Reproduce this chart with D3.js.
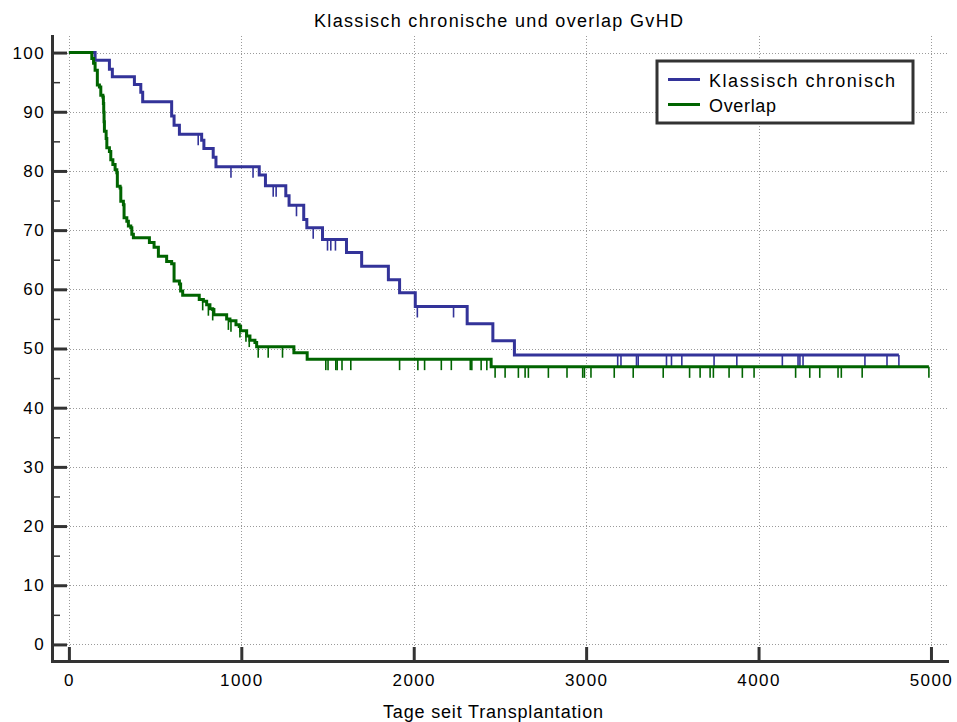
<!DOCTYPE html>
<html>
<head>
<meta charset="utf-8">
<script src="https://cdn.jsdelivr.net/npm/d3@7"></script>
<style>
  body { margin: 0; background: #fff; }
  svg text { font-family: "Liberation Sans", Arial, sans-serif; fill: #000; }
</style>
</head>
<body>
<div class="chart"></div>
<script>
// Klassisch chronisch: step times (days) and survival (%)
const blueTimes = [0, 152, 235, 252, 380, 417, 428, 596, 610, 641, 770, 783, 837, 853,
  1104, 1140, 1258, 1277, 1362, 1380, 1471, 1610, 1698, 1853, 1918, 2009, 2310, 2459, 2584];
const blueSurv = [100, 98.7, 97.2, 95.9, 94.6, 93.3, 91.7, 89.3, 87.7, 86.2, 85.2, 83.8, 82.3, 80.7,
  79.3, 77.5, 75.8, 74.2, 71.8, 70.4, 68.4, 66.2, 63.9, 61.6, 59.4, 57.1, 54.2, 51.3, 48.9];
const blueCensor = [750, 940, 1068, 1185, 1202, 1320, 1417, 1500, 1519, 1546, 2021, 2231,
  3183, 3202, 3292, 3302, 3466, 3495, 3555, 3742, 3874, 4138, 4229, 4240, 4258, 4617, 4745, 4814];
const blueEnd = 4814;

// Overlap
const greenTimes = [0, 133, 143, 152, 165, 177, 185, 197, 200, 202, 204, 206, 216, 220, 235, 243,
  255, 268, 278, 281, 297, 301, 316, 320, 336, 345, 359, 365, 374, 467, 494, 519, 567, 596, 610,
  641, 648, 660, 756, 780, 799, 818, 834, 841, 915, 934, 969, 988, 996, 1031, 1050, 1079, 1089,
  1305, 1382, 2449];
const greenSurv = [100, 99.0, 98.2, 97.0, 94.5, 94.2, 92.8, 92.5, 91.4, 89.9, 88.3, 86.7, 85.5, 83.9, 83.3, 81.9,
  81.1, 80.2, 79.7, 77.4, 77.1, 74.9, 74.3, 72.1, 71.5, 70.7, 70.4, 69.3, 68.7, 67.9, 67.1, 65.6, 64.7, 64.3, 61.4,
  60.9, 59.7, 59.0, 58.3, 58.0, 57.4, 56.7, 56.6, 55.7, 55.0, 54.7, 54.0, 53.7, 53.0, 52.1, 51.4, 51.0, 50.3,
  49.3, 48.2, 46.9];
const greenCensor = [776, 809, 834, 925, 940, 992, 1027, 1046, 1098, 1156, 1239, 1490, 1503, 1548,
  1556, 1584, 1635, 1918, 2024, 2063, 2160, 2218, 2328, 2337, 2391, 2424, 2472, 2530, 2607, 2646,
  2665, 2781, 2889, 2980, 2990, 3028, 3163, 3273, 3447, 3600, 3661, 3719, 3738, 3829, 3906, 3974,
  4215, 4297, 4355, 4461, 4480, 4601, 4988];
const greenEnd = 4988;

const xTicks = [0, 1000, 2000, 3000, 4000, 5000];
const yTicks = [0, 10, 20, 30, 40, 50, 60, 70, 80, 90, 100];
const yMinor = [5, 15, 25, 35, 45, 55, 65, 75, 85, 95];
const seriesNames = ['Klassisch chronisch', 'Overlap'];

const w = 957;
const h = 722;
const blue = '#333399';
const green = '#006400';

const svg = d3.select('.chart')
  .append('svg')
  .attr('width', w)
  .attr('height', h);

const x = d3.scaleLinear().domain([-98, 5093]).range([52, 947]);
const y = d3.scaleLinear().domain([-2.8, 102.8]).range([661, 36]);

// grid
const grid = svg.append('g').attr('stroke', '#9a9a9a').attr('stroke-width', 1)
  .attr('stroke-dasharray', '1,2');
grid.selectAll('.hg').data(yTicks).enter().append('line')
  .attr('x1', 67).attr('x2', 947)
  .attr('y1', d => Math.round(y(d)) + 0.5).attr('y2', d => Math.round(y(d)) + 0.5);
grid.selectAll('.vg').data(xTicks).enter().append('line')
  .attr('y1', 36).attr('y2', 647)
  .attr('x1', d => Math.round(x(d)) + 0.5).attr('x2', d => Math.round(x(d)) + 0.5);

// axes
const yAxis = svg.append('g')
  .attr('transform', `translate(${x.range()[0]},0)`)
  .call(d3.axisLeft(y).tickValues(yTicks).tickSizeInner(-15).tickSizeOuter(0).tickPadding(7));
svg.append('g')
  .attr('transform', `translate(${x.range()[0]},0)`)
  .call(d3.axisLeft(y).tickValues(yMinor).tickSizeInner(-8).tickSizeOuter(0).tickFormat(''))
  .call(g => g.select('.domain').remove())
  .call(g => g.selectAll('line').attr('stroke', '#333').attr('stroke-width', 1.5));

const xAxis = svg.append('g')
  .attr('transform', `translate(0,${y.range()[0]})`)
  .call(d3.axisBottom(x).tickValues(xTicks).tickFormat(d3.format('d'))
    .tickSizeInner(-14).tickSizeOuter(0).tickPadding(13));

[xAxis, yAxis].forEach(g => {
  g.select('.domain').attr('stroke', '#333').attr('stroke-width', 3).attr('stroke-linecap', 'square');
  g.selectAll('.tick line').attr('stroke', '#333').attr('stroke-width', 3);
  g.selectAll('.tick text')
    .attr('font-size', 17)
    .attr('font-family', '"Liberation Sans", Arial, sans-serif')
    .attr('fill', '#000')
    .style('letter-spacing', '1.4px');
});

// curves
const line = d3.line()
  .x(d => x(d[0]))
  .y(d => y(d[1]))
  .curve(d3.curveStepAfter);

function drawCurve(times, surv, censor, end, color) {
  const pts = times.map((t, i) => [t, surv[i]]);
  pts.push([end, surv[surv.length - 1]]);
  const survAt = t => surv[Math.max(0, d3.bisectRight(times, t) - 1)];

  svg.append('path')
    .datum(pts)
    .attr('fill', 'none')
    .attr('stroke', color)
    .attr('stroke-width', 3)
    .attr('stroke-linejoin', 'miter')
    .attr('d', line);

  svg.append('g')
    .selectAll('line')
    .data(censor)
    .enter()
    .append('line')
    .attr('x1', d => x(d)).attr('x2', d => x(d))
    .attr('y1', d => y(survAt(d)))
    .attr('y2', d => y(survAt(d)) + 11)
    .attr('stroke', color)
    .attr('stroke-width', 1.6);
}

drawCurve(blueTimes, blueSurv, blueCensor, blueEnd, blue);
drawCurve(greenTimes, greenSurv, greenCensor, greenEnd, green);

// title & axis label
svg.append('text')
  .attr('x', 314).attr('y', 26.5)
  .attr('font-size', 18)
  .attr('textLength', 369).attr('lengthAdjust', 'spacing')
  .text('Klassisch chronische und overlap GvHD');

svg.append('text')
  .attr('x', 383).attr('y', 718)
  .attr('font-size', 18)
  .attr('textLength', 220).attr('lengthAdjust', 'spacing')
  .text('Tage seit Transplantation');

// legend
const legend = svg.append('g').attr('transform', 'translate(657,61)');
legend.append('rect')
  .attr('width', 256).attr('height', 62)
  .attr('fill', '#fff')
  .attr('stroke', '#333').attr('stroke-width', 3);

const legendItem = legend.selectAll('.legend-item')
  .data(seriesNames)
  .enter()
  .append('g')
  .attr('class', 'legend-item')
  .attr('transform', (_, i) => `translate(0, ${18.5 + i * 25})`);

legendItem.append('line')
  .attr('x1', 11).attr('x2', 43)
  .attr('stroke', (_, i) => [blue, green][i])
  .attr('stroke-width', 3);

legendItem.append('text')
  .attr('x', 52).attr('y', 7)
  .attr('font-size', 18)
  .attr('textLength', (_, i) => [186, 67][i]).attr('lengthAdjust', 'spacing')
  .text(d => d);
</script>
</body>
</html>
